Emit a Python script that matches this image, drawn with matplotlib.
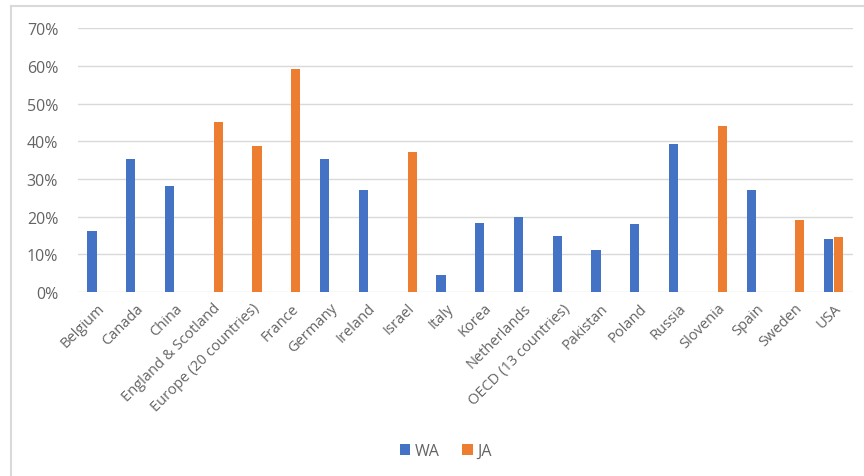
import numpy as np
import matplotlib
matplotlib.use("Agg")
import matplotlib.pyplot as plt
from matplotlib.lines import Line2D
from matplotlib.patches import Patch

categories = ["Belgium", "Canada", "China", "England & Scotland", "Europe (20 countries)",
              "France", "Germany", "Ireland", "Israel", "Italy", "Korea", "Netherlands",
              "OECD (13 countries)", "Pakistan", "Poland", "Russia", "Slovenia", "Spain",
              "Sweden", "USA"]
wa = [0.162, 0.353, 0.281, None, None, None, 0.353, 0.271, None, 0.045, 0.183, 0.199,
      0.149, 0.111, 0.180, 0.393, None, 0.271, None, 0.141]
ja = [None, None, None, 0.451, 0.387, 0.592, None, None, 0.371, None, None, None,
      None, None, None, None, 0.440, None, 0.191, 0.146]
series_names = ["WA", "JA"]
yticks = [0, 0.1, 0.2, 0.3, 0.4, 0.5, 0.6, 0.7]
ytick_labels = ["0%", "10%", "20%", "30%", "40%", "50%", "60%", "70%"]

W, H = 864, 477
fig = plt.figure(figsize=(W / 100, H / 100), dpi=100)
fig.patch.set_facecolor("white")
plt.rcParams['font.family'] = ['Open Sans', 'DejaVu Sans']

ax = fig.add_axes([77.6 / W, 1 - 293 / H, (853 - 77.6) / W, (293 - 29.3) / H])
x = np.arange(len(categories))
w = 0.235
blue = "#4472C4"
orange = "#ED7D31"
text_col = "#646464"
wa_v = np.array([np.nan if v is None else v for v in wa], dtype=float)
ja_v = np.array([np.nan if v is None else v for v in ja], dtype=float)
ax.bar(x - w / 2 - 0.01, wa_v, width=w, color=blue, label=series_names[0], zorder=3)
ax.bar(x + w / 2 + 0.01, ja_v, width=w, color=orange, label=series_names[1], zorder=3)

ax.set_xlim(-0.5, len(categories) - 0.5)
ax.set_ylim(0, 0.7)
ax.set_yticks(yticks)
ax.set_yticklabels(ytick_labels, fontsize=11.5, color=text_col)
ax.yaxis.grid(True, color="#d9d9d9", linewidth=1.0, zorder=0)
ax.set_axisbelow(True)
for s in ax.spines.values():
    s.set_visible(False)
ax.tick_params(axis="both", length=0)
ax.tick_params(axis="y", pad=14)
ax.set_xticks(x)
ax.set_xticklabels(categories, rotation=45, ha="right", rotation_mode="anchor",
                   fontsize=10.5, color=text_col)
ax.tick_params(axis="x", pad=6)

handles = [Patch(facecolor=blue, label="WA"), Patch(facecolor=orange, label="JA")]
fig.legend(handles=handles, loc="center", bbox_to_anchor=(446 / W, 1 - 452 / H), ncol=2,
           frameon=False, fontsize=11.5, handlelength=0.65, handleheight=0.65,
           handletextpad=0.3, columnspacing=1.4, labelcolor=text_col)

# chart border (top and left visible)
fig.add_artist(Line2D([10.5 / W, 1], [1 - 7 / H, 1 - 7 / H], color="#d9d9d9", linewidth=1.5,
                      transform=fig.transFigure))
fig.add_artist(Line2D([10.5 / W, 10.5 / W], [0, 1 - 7 / H], color="#d9d9d9", linewidth=1.5,
                      transform=fig.transFigure))

fig.savefig("out.png", dpi=100)
